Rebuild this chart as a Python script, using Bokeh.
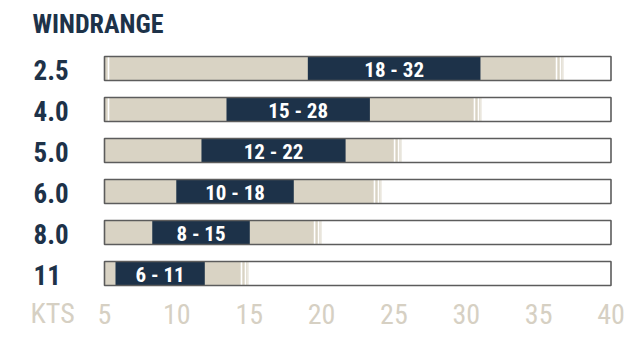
from bokeh.plotting import figure
from bokeh.models import Range1d
from bokeh.core.properties import value
from bokeh.embed import file_html
from bokeh.resources import INLINE

# ---- data ----
title_text = "WINDRANGE"
sizes = ["2.5", "4.0", "5.0", "6.0", "8.0", "11"]
range_labels = ["18 - 32", "15 - 28", "12 - 22", "10 - 18", "8 - 15", "6 - 11"]
core_lo = [19.05, 13.43, 11.70, 9.96, 8.30, 5.76]
core_hi = [30.98, 23.34, 21.66, 18.08, 15.04, 11.93]
usable_hi = [36.72, 31.05, 25.53, 24.14, 20.0, 14.95]
low_marker = [True, True, False, False, False, False]
axis_ticks = [5, 10, 15, 20, 25, 30, 35, 40]
axis_unit = "KTS"
x_min, x_max = 5, 40

# ---- style / layout ----
W, H = 640, 353
FONT = value("Roboto Condensed")
NAVY = "#1d3249"
BEIGE = "#d9d3c4"
AXIS_TXT = "#d6d0c3"
BORDER = "#5c5c5c"

px_left, px_right = 104, 610.5
ppu = (px_right - px_left) / (x_max - x_min)
def xpx(px):
    return x_min + (px - px_left) / ppu

row_top_px, row_step_px = 68, 41
def ypx(py):
    return (py - row_top_px) / row_step_px
bar_h = 24 / row_step_px

p = figure(width=W, height=H, output_backend="svg", toolbar_location=None,
           x_range=Range1d(xpx(0), xpx(W)), y_range=Range1d(ypx(H), ypx(0)),
           min_border=0, outline_line_color=None)
p.axis.visible = False
p.grid.visible = False
p.background_fill_color = "white"
p.border_fill_color = "white"

n = len(sizes)
rows = list(range(n))
tops = [r - bar_h/2 for r in rows]
bots = [r + bar_h/2 for r in rows]

# usable (beige) range
p.quad(left=[x_min]*n, right=usable_hi, top=tops, bottom=bots, fill_color=BEIGE, line_color=None)
# fade lines at right end of beige
for off in (7, 3):
    xs = [u - off/ppu for u in usable_hi]
    p.segment(x0=xs, x1=xs, y0=tops, y1=bots, line_color="white", line_width=1.6)
p.quad(left=[u - 1.5/ppu for u in usable_hi], right=usable_hi, top=tops, bottom=bots,
       fill_color="white", fill_alpha=0.45, line_color=None)
# low-end marker
lm_rows = [r for r, m in zip(rows, low_marker) if m]
lx = [x_min + 4/ppu]*len(lm_rows)
p.segment(x0=lx, x1=lx, y0=[r - bar_h/2 for r in lm_rows], y1=[r + bar_h/2 for r in lm_rows],
          line_color="white", line_width=1.6)
# core (navy) range
p.quad(left=core_lo, right=core_hi, top=tops, bottom=bots, fill_color=NAVY, line_color=None)
# outline
p.quad(left=[x_min]*n, right=[x_max]*n, top=tops, bottom=bots, fill_alpha=0,
       line_color=BORDER, line_width=1.6)

# labels inside navy bars
p.text(x=[(a + b) / 2 for a, b in zip(core_lo, core_hi)], y=[r + 0.03 for r in rows],
       text=range_labels, text_color="white", text_font=FONT, text_font_size="21px",
       text_font_style="bold", text_align="center", text_baseline="middle")

# row labels
p.text(x=[xpx(33)]*n, y=[r + 0.04 for r in rows], text=sizes, text_color=NAVY, text_font=FONT,
       text_font_size="27px", text_font_style="bold", text_align="left", text_baseline="middle")

# title
p.text(x=[xpx(32)], y=[ypx(23)], text=[title_text], text_color=NAVY, text_font=FONT,
       text_font_size="26px", text_font_style="bold", text_align="left", text_baseline="middle")

# axis labels
p.text(x=axis_ticks, y=[ypx(313)]*len(axis_ticks), text=[str(t) for t in axis_ticks],
       text_color=AXIS_TXT, text_font=FONT, text_font_size="28px",
       text_align="center", text_baseline="middle")
p.text(x=[xpx(30)], y=[ypx(313)], text=[axis_unit], text_color=AXIS_TXT, text_font=FONT,
       text_font_size="28px", text_align="left", text_baseline="middle")

open("out.html", "w").write(file_html(p, INLINE))
